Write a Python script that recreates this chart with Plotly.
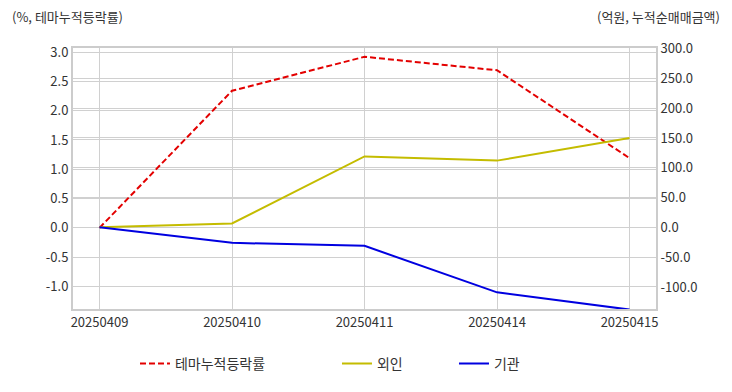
import plotly.graph_objects as go

dates = ["20250409", "20250410", "20250411", "20250414", "20250415"]
theme_rate = [0.0, 2.34, 2.92, 2.69, 1.19]
foreign = [0.0, 6.5, 119.0, 112.0, 150.0]
institution = [0.0, -26.0, -31.0, -109.0, -138.0]

left_ticks = [-1.0, -0.5, 0.0, 0.5, 1.0, 1.5, 2.0, 2.5, 3.0]
right_ticks = [-100, -50, 0, 50, 100, 150, 200, 250, 300]

FONT = "Noto Sans CJK KR, Noto Sans, sans-serif"
TXT = "#333333"
GRID = "#d0d0d0"

fig = go.Figure()
fig.add_trace(go.Scatter(x=dates, y=theme_rate, name="테마누적등락률", mode="lines",
                         line=dict(color="#e30000", width=2, dash="6px,3px"), yaxis="y",
                         legend="legend"))
fig.add_trace(go.Scatter(x=dates, y=foreign, name="외인", mode="lines",
                         line=dict(color="#c4bc00", width=2), yaxis="y2", legend="legend2"))
fig.add_trace(go.Scatter(x=dates, y=institution, name="기관", mode="lines",
                         line=dict(color="#0000e0", width=2), yaxis="y2", legend="legend3"))

leg = dict(orientation="h", xanchor="left", y=-0.21, yanchor="middle",
           font=dict(size=14, color=TXT), bgcolor="rgba(0,0,0,0)")

fig.update_layout(
    width=724, height=384,
    margin=dict(l=65, r=76, t=40, b=75),
    paper_bgcolor="white", plot_bgcolor="white",
    font=dict(family=FONT, size=13, color=TXT),
    showlegend=True,
    legend=dict(leg, x=0.1063),
    legend2=dict(leg, x=0.4528),
    legend3=dict(leg, x=0.6535),
    xaxis=dict(type="category", range=[-0.2, 4.2], showgrid=True, gridcolor=GRID,
               gridwidth=1, ticks="", showline=True, linecolor="#cccccc", linewidth=2,
               mirror=True, tickfont=dict(size=13, color=TXT), zeroline=False,
               automargin=False),
    yaxis=dict(range=[-1.385, 3.07], tickvals=left_ticks,
               ticktext=[f"{v:.1f}" for v in left_ticks], showgrid=True,
               gridcolor=GRID, gridwidth=1, zeroline=False, showline=True,
               linecolor="#cccccc", linewidth=2, ticks="", tickfont=dict(size=13, color=TXT),
               automargin=False),
    yaxis2=dict(range=[-137, 301], tickvals=right_ticks,
                ticktext=[f"{v:.1f}" for v in right_ticks], overlaying="y", side="right",
                showgrid=True, gridcolor=GRID, gridwidth=1, zeroline=False,
                showline=True, linecolor="#cccccc", linewidth=2, ticks="",
                tickfont=dict(size=13, color=TXT), automargin=False),
    annotations=[
        dict(text="(%, 테마누적등락률)", xref="paper", yref="paper", x=-0.108, y=1.119,
             xanchor="left", yanchor="middle", showarrow=False,
             font=dict(size=13, color=TXT)),
        dict(text="(억원, 누적순매매금액)", xref="paper", yref="paper", x=1.113, y=1.119,
             xanchor="right", yanchor="middle", showarrow=False,
             font=dict(size=13, color=TXT)),
    ],
)

fig.write_html("out.html")
